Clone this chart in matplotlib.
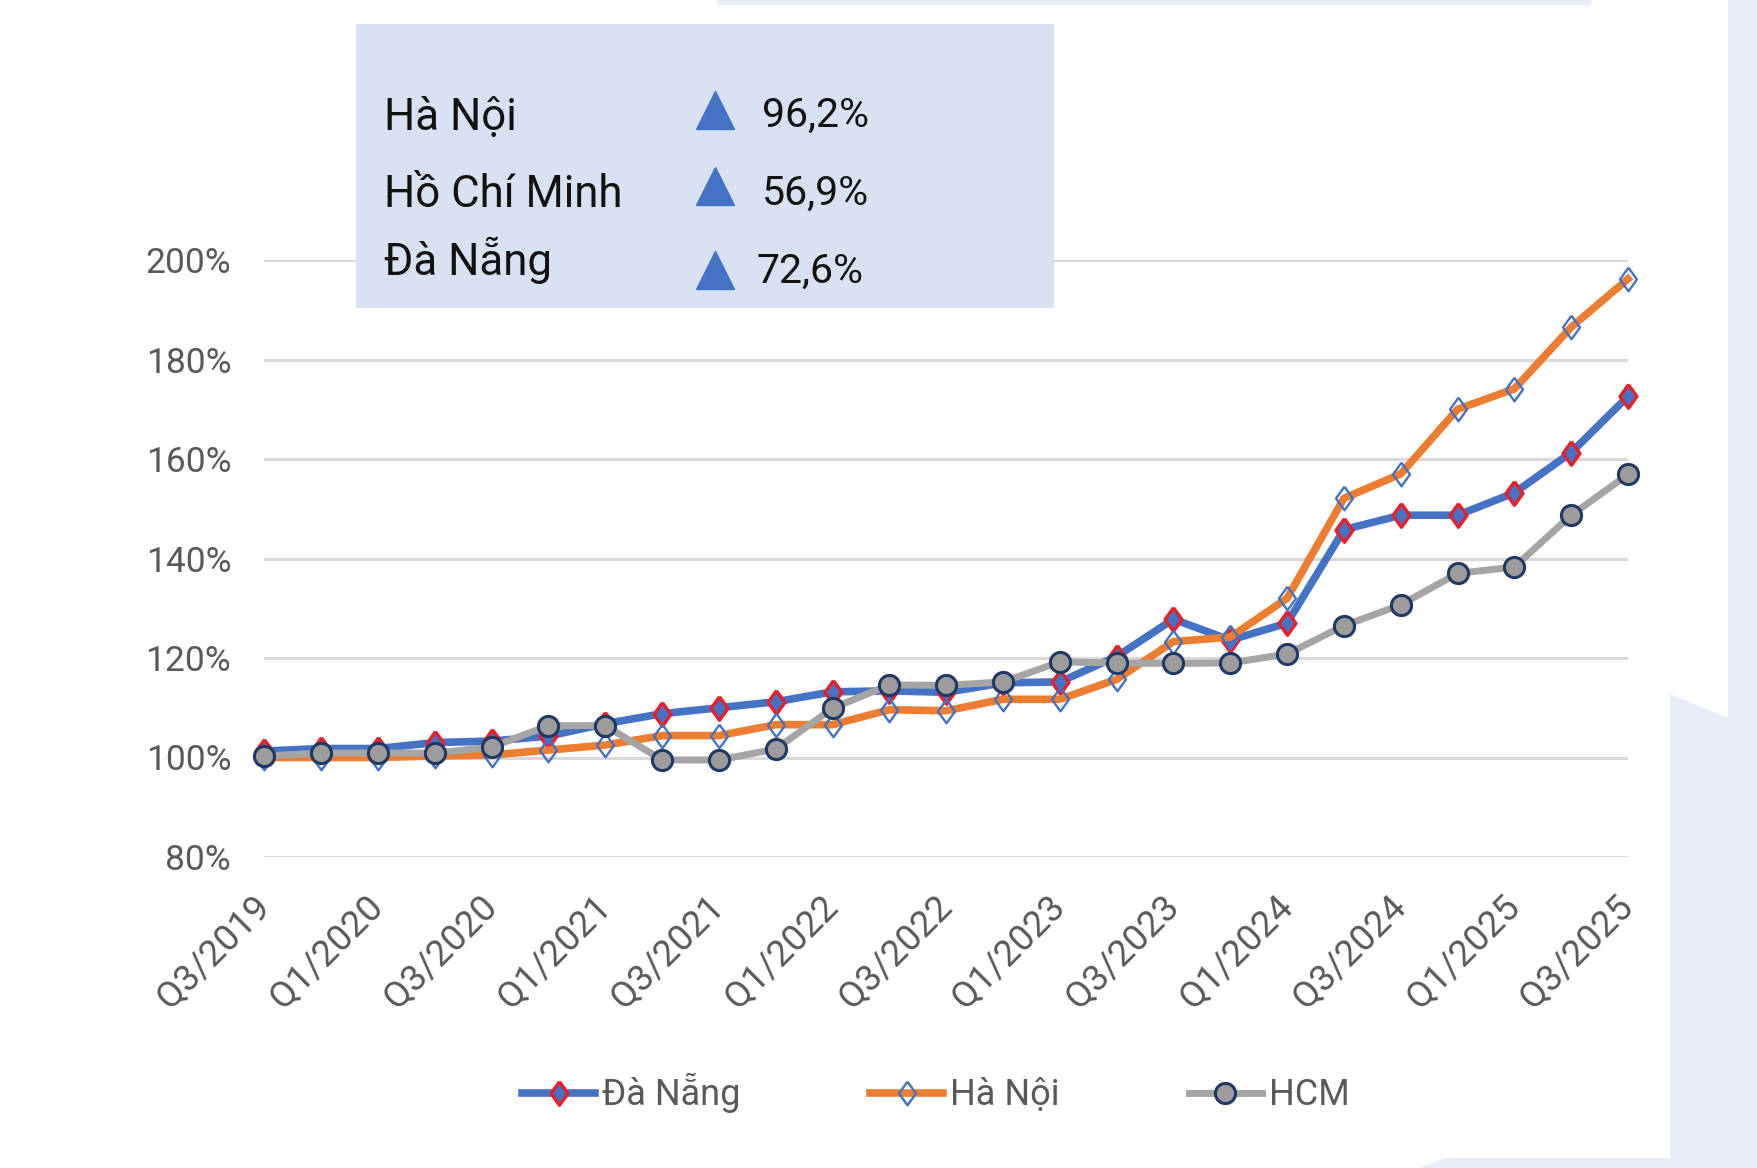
import matplotlib
matplotlib.use("Agg")
import matplotlib.pyplot as plt
from matplotlib.patches import Polygon, Rectangle
from matplotlib.lines import Line2D
import numpy as np

plt.rcParams['font.family'] = ['Roboto', 'DejaVu Sans']

# quarters Q3/2019 .. Q3/2025
quarters = ['Q3/2019', 'Q4/2019', 'Q1/2020', 'Q2/2020', 'Q3/2020', 'Q4/2020',
            'Q1/2021', 'Q2/2021', 'Q3/2021', 'Q4/2021', 'Q1/2022', 'Q2/2022',
            'Q3/2022', 'Q4/2022', 'Q1/2023', 'Q2/2023', 'Q3/2023', 'Q4/2023',
            'Q1/2024', 'Q2/2024', 'Q3/2024', 'Q4/2024', 'Q1/2025', 'Q2/2025',
            'Q3/2025']

da_nang = [101.3, 101.8, 101.8, 103.0, 103.3, 104.3, 106.8, 108.8, 110.0, 111.2,
           113.2, 113.4, 113.1, 115.0, 115.2, 120.3, 127.8, 123.6, 127.0, 145.8,
           148.7, 148.7, 153.2, 161.3, 172.6]
ha_noi = [100.0, 100.0, 100.0, 100.3, 100.5, 101.5, 102.5, 104.4, 104.4, 106.6,
          106.6, 109.6, 109.4, 111.7, 111.7, 115.7, 123.3, 124.2, 132.0, 152.1,
          157.0, 170.0, 174.1, 186.5, 196.2]
hcm = [100.3, 100.9, 100.9, 100.9, 102.1, 106.4, 106.4, 99.5, 99.5, 101.7,
       109.9, 114.6, 114.5, 115.2, 119.2, 119.0, 118.9, 119.0, 120.8, 126.5,
       130.7, 137.0, 138.3, 148.7, 156.9]

yticks = [80, 100, 120, 140, 160, 180, 200]

box_cities = ['Hà Nội', 'Hồ Chí Minh', 'Đà Nẵng']
box_growth = ['96,2%', '56,9%', '72,6%']

W, H = 1757, 1168
fig = plt.figure(figsize=(W / 100, H / 100), dpi=100, facecolor='white')

def fx(px):
    return px / W

def fy(py):
    return 1 - py / H

# light background pieces on the right / edges
bg = '#E9EEF8'
fig.add_artist(Polygon([(fx(1728), fy(0)), (fx(1757), fy(0)), (fx(1757), fy(1168)),
                        (fx(1420), fy(1168)), (fx(1445), fy(1158)), (fx(1670), fy(1158)),
                        (fx(1670), fy(694)), (fx(1728), fy(718))],
                       closed=True, transform=fig.transFigure, facecolor=bg,
                       edgecolor='none', zorder=0))
fig.add_artist(Rectangle((fx(717), fy(5)), fx(1591) - fx(717), fy(0) - fy(5),
                         transform=fig.transFigure, facecolor=bg, edgecolor='none', zorder=0))

ax = fig.add_axes([fx(264.4), fy(857), fx(1628) - fx(264.4), fy(260) - fy(857)])
ax.set_facecolor('none')

x = np.arange(len(quarters))
diamond = [(0, 1), (0.72, 0), (0, -1), (-0.72, 0), (0, 1)]

ax.plot(x, da_nang, color='#4472C4', lw=5.5, marker=diamond, ms=17,
        mfc='#4472C4', mec='#E8202A', mew=2.4, clip_on=False, zorder=3, label='Đà Nẵng')
ax.plot(x, ha_noi, color='#ED7D31', lw=5.5, marker=diamond, ms=17,
        mfc='none', mec='#4472C4', mew=1.7, clip_on=False, zorder=3, label='Hà Nội')
ax.plot(x, hcm, color='#A5A5A5', lw=5, marker='o', ms=14.5,
        mfc='#9C9C9C', mec='#1F3864', mew=2.2, clip_on=False, zorder=4, label='HCM')

ax.set_xlim(0, 24)
ax.set_ylim(80, 200)
ax.set_yticks(yticks)
ax.set_yticklabels([f'{v}%' for v in yticks])
ax.set_xticks(x[::2])
ax.set_xticklabels(quarters[::2], rotation=45, ha='right', va='center',
                   rotation_mode='anchor')
ax.grid(axis='y', color='#D9D9D9', lw=2.2, zorder=0)
ax.set_axisbelow(True)
for s in ax.spines.values():
    s.set_visible(False)
ax.tick_params(axis='both', length=0, labelsize=25.5, labelcolor='#595959')
ax.tick_params(axis='x', labelsize=26.5)
ax.tick_params(axis='y', pad=24)
ax.tick_params(axis='x', pad=32)

leg = fig.legend(loc='center', bbox_to_anchor=(fx(936), fy(1093)), ncol=3,
                 frameon=False, fontsize=26, handlelength=2.0, handletextpad=0.2,
                 columnspacing=3.6, labelcolor='#595959')

# summary box
fig.add_artist(Rectangle((fx(356), fy(308)), fx(1054) - fx(356), fy(23.5) - fy(308),
                         transform=fig.transFigure, facecolor='#D9E2F2',
                         edgecolor='none', zorder=5))
name_y = [130, 207, 275]
pct_y = [127, 205, 283]
pct_x = [762, 762, 756]
tri_y = [110, 186, 270]
for i in range(3):
    fig.text(fx(384), fy(name_y[i]), box_cities[i], fontsize=31.5, color='#111111',
             va='baseline', ha='left', zorder=6)
    fig.text(fx(pct_x[i]), fy(pct_y[i]), box_growth[i], fontsize=29.5, color='#111111',
             va='baseline', ha='left', zorder=6)
    fig.add_artist(Line2D([fx(715)], [fy(tri_y[i])], marker='^', ms=27,
                          color='#4472C4', transform=fig.transFigure, zorder=6))

fig.savefig('out.png', dpi=100, facecolor=fig.get_facecolor())
